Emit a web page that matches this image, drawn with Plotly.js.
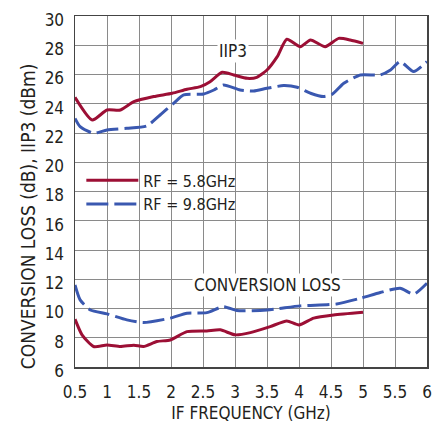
<!DOCTYPE html>
<html><head><meta charset="utf-8">
<script src="https://cdn.plot.ly/plotly-3.0.1.min.js"></script>
<style>html,body{margin:0;padding:0;background:#fff}#c{width:437px;height:423px}</style>
</head><body><div id="c"></div>
<script>
const iip3_58_x = [0.5,0.77,1.0,1.21,1.42,1.73,2.02,2.25,2.46,2.61,2.80,2.98,3.19,3.34,3.5,3.66,3.81,4.02,4.18,4.41,4.62,4.80,5.0];
const iip3_58_y = [24.44,22.89,23.57,23.57,24.14,24.49,24.72,24.99,25.17,25.51,26.15,25.97,25.74,25.81,26.31,27.22,28.41,27.9,28.36,27.9,28.47,28.36,28.13];
const iip3_98_x = [0.5,0.58,0.79,1.0,1.31,1.62,1.83,2.04,2.20,2.51,2.67,2.82,3.08,3.29,3.5,3.76,3.97,4.18,4.38,4.52,4.70,4.96,5.27,5.43,5.58,5.79,6.0];
const iip3_98_y = [23.0,22.43,21.98,22.21,22.32,22.48,23.23,24.03,24.6,24.67,24.94,25.28,24.94,24.87,25.06,25.24,25.13,24.72,24.49,24.65,25.4,25.97,25.97,26.31,26.88,26.2,26.88];
const cl_58_x = [0.5,0.61,0.79,1.0,1.21,1.42,1.57,1.78,1.99,2.25,2.56,2.77,3.0,3.24,3.55,3.81,4.0,4.23,4.54,5.0];
const cl_58_y = [9.27,8.2,7.40,7.51,7.40,7.49,7.40,7.74,7.85,8.42,8.47,8.54,8.2,8.35,8.76,9.15,8.88,9.34,9.56,9.75];
const cl_98_x = [0.5,0.58,0.74,1.0,1.31,1.57,1.99,2.25,2.56,2.82,3.03,3.5,4.02,4.59,4.96,5.27,5.58,5.79,6.0];
const cl_98_y = [11.61,10.59,9.9,9.63,9.22,9.04,9.34,9.68,9.72,10.13,9.86,9.9,10.18,10.31,10.70,11.09,11.39,10.98,11.73];
const seriesNames = ["RF = 5.8GHz", "RF = 9.8GHz"];
const xTicks = [0.5,1,1.5,2,2.5,3,3.5,4,4.5,5,5.5,6];
const yTicks = [6,8,10,12,14,16,18,20,22,24,26,28,30];

const FONT = "'Liberation Sans Narrow', 'DejaVu Sans Condensed', Arial, sans-serif";
const RED = "#9c0f35", BLUE = "#3a58b0";
const redLine = {color: RED, width: 3, shape: "spline", smoothing: 0.6};
const blueLine = {color: BLUE, width: 3, dash: "22px,6px", shape: "spline", smoothing: 0.6};

const data = [
  {x: iip3_58_x, y: iip3_58_y, mode: "lines", line: redLine, name: seriesNames[0], showlegend: true},
  {x: iip3_98_x, y: iip3_98_y, mode: "lines", line: blueLine, name: seriesNames[1], showlegend: true},
  {x: cl_58_x, y: cl_58_y, mode: "lines", line: redLine, showlegend: false},
  {x: cl_98_x, y: cl_98_y, mode: "lines", line: blueLine, showlegend: false}
];

const layout = {
  width: 437, height: 423,
  margin: {l: 75, r: 10, t: 16, b: 56},
  paper_bgcolor: "#fff", plot_bgcolor: "#fff",
  font: {family: FONT, size: 17, color: "#231f20"},
  xaxis: {
    range: [0.5, 6], tickvals: xTicks, ticktext: xTicks.map(String), automargin: false,
    showgrid: true, gridcolor: "#8a8a8a", gridwidth: 1,
    showline: true, linecolor: "#444", linewidth: 1.5, mirror: true,
    zeroline: false, ticks: "", ticklen: 0, ticklabelstandoff: 9,
    title: {text: "IF FREQUENCY (GHz)", font: {size: 17}, standoff: 12}
  },
  yaxis: {
    range: [6, 30], tickvals: yTicks, ticktext: yTicks.map(String), automargin: false,
    showgrid: true, gridcolor: "#8a8a8a", gridwidth: 1,
    showline: true, linecolor: "#444", linewidth: 1.5, mirror: true,
    zeroline: false, ticks: "", ticklen: 0, ticklabelstandoff: 6, ticklabelshift: 4
  },
  legend: {
    x: 0.018, y: 0.58, xanchor: "left", yanchor: "top",
    bgcolor: "rgba(255,255,255,0)", borderwidth: 0, itemwidth: 52,
    font: {size: 16}, tracegroupgap: 0
  },
  shapes: [
    {type: "rect", xref: "paper", yref: "paper", x0: 0.004, x1: 0.483, y0: 0.41, y1: 0.572,
     fillcolor: "#fff", line: {width: 0}, layer: "between"}
  ],
  annotations: [
    {x: -0.17, y: 0.43, xref: "paper", yref: "paper", text: "CONVERSION LOSS (dB), IIP3 (dBm)",
     textangle: -90, showarrow: false, font: {size: 19}},
    {x: 2.97, y: 27.6, xref: "x", yref: "y", text: "IIP3", showarrow: false, bgcolor: "#fff", font: {size: 17}},
    {x: 3.5, y: 11.6, xref: "x", yref: "y", text: "CONVERSION LOSS", showarrow: false, bgcolor: "#fff", font: {size: 17}}
  ]
};
Plotly.newPlot("c", data, layout, {displayModeBar: false, staticPlot: true});
</script></body></html>
